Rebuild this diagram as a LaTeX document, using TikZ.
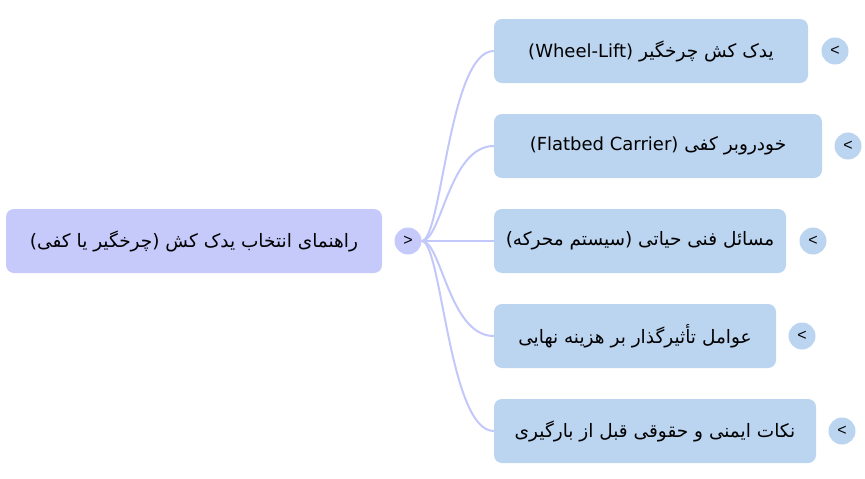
\documentclass[tikz,border=0pt]{standalone}
\usepackage{fontspec}
\setmainfont{Liberation Sans}
\newfontfamily\arabicfont[Script=Arabic]{DejaVu Sans}
\newfontfamily\latinfont{DejaVu Sans}
\newfontfamily\signfont{Liberation Sans}
\TeXXeTstate=1
\definecolor{rootfill}{HTML}{C5CAFB}
\definecolor{childfill}{HTML}{BBD4F0}
\definecolor{linkcol}{HTML}{C3C8FA}
\tikzset{
  rootbox/.style={fill=rootfill, rounded corners=8pt, minimum height=64pt, inner sep=0pt, font=\arabicfont\fontsize{18.5}{22}\selectfont},
  childbox/.style={fill=childfill, rounded corners=8pt, minimum height=64pt, inner sep=0pt, font=\arabicfont\fontsize{18.5}{22}\selectfont},
  rootdot/.style={circle, fill=rootfill, minimum size=27pt, inner sep=0pt, font=\signfont\fontsize{16}{16}\selectfont},
  childdot/.style={circle, fill=childfill, minimum size=27pt, inner sep=0pt, font=\signfont\fontsize{16}{16}\selectfont},
  link/.style={draw=linkcol, line width=2pt}
}
\begin{document}
\begin{tikzpicture}[x=1pt,y=-1pt]
\useasboundingbox (0,0) rectangle (865,479);
\node[rootbox, minimum width=376pt] (root) at (194,241) {\beginR راهنمای انتخاب یدک کش (چرخگیر یا کفی)\endR};
\node[rootdot] (rd) at (408,241) {\textgreater};

\node[childbox, minimum width=314pt] (c1) at (651,51) {\beginR یدک کش چرخگیر \beginL{\latinfont\fontsize{18}{22}\selectfont (Wheel-Lift)}\endL\endR};
\node[childbox, minimum width=328pt] (c2) at (658,146) {\beginR خودروبر کفی \beginL{\latinfont\fontsize{18}{22}\selectfont (Flatbed Carrier)}\endL\endR};
\node[childbox, minimum width=292pt] (c3) at (640,241) {\beginR مسائل فنی حیاتی (سیستم محرکه)\endR};
\node[childbox, minimum width=282pt] (c4) at (635,336) {\beginR عوامل تأثیرگذار بر هزینه نهایی\endR};
\node[childbox, minimum width=322pt] (c5) at (655,431) {\beginR نکات ایمنی و حقوقی قبل از بارگیری\endR};

\node[childdot] (d1) at (835,51) {\textless};
\node[childdot] (d2) at (848,146) {\textless};
\node[childdot] (d3) at (813,241) {\textless};
\node[childdot] (d4) at (802,336) {\textless};
\node[childdot] (d5) at (842,431) {\textless};

\foreach \c in {c1,c2,c3,c4,c5}{
  \draw[link] (rd.east) .. controls +(20,0) and +(-45,0) .. (\c.west);
}
\end{tikzpicture}
\end{document}
